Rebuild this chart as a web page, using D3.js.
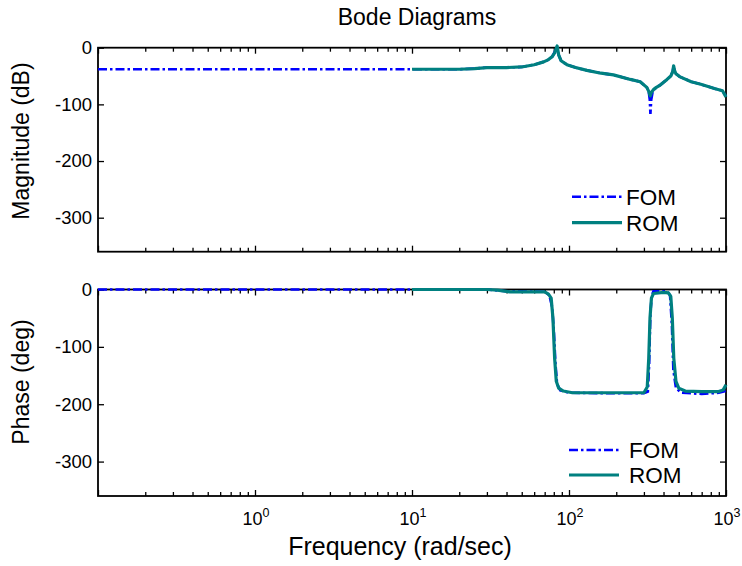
<!DOCTYPE html>
<html>
<head>
<meta charset="utf-8">
<script src="https://cdn.jsdelivr.net/npm/d3@7"></script>
<style>
  html, body { margin: 0; padding: 0; background: #fff; }
  text { font-family: "Liberation Sans", Arial, Helvetica, sans-serif; fill: #000; }
</style>
</head>
<body>
<svg id="chart" width="742" height="566"></svg>
<script>
// ---------------- DATA ----------------
const titleText = "Bode Diagrams";
const seriesNames = ["FOM", "ROM"];
const yTicks = [0, -100, -200, -300];
const xMajorTicks = [0.1, 1, 10, 100, 1000];
const xTickLabels = [0, 1, 2, 3];           // exponents shown: 10^0 .. 10^3

// Magnitude (dB)
const fomMagFreq = [0.1, 1, 10, 20, 25, 30, 40, 50, 60, 69, 74, 78, 81, 83, 86, 89, 97, 110, 130, 160, 192, 246, 284, 313, 322, 327, 330, 334, 342, 360, 381, 421, 445, 458, 464, 470, 480, 506, 600, 700, 843, 950, 1000];
const fomMagDb   = [-38, -38, -38, -38, -37, -35, -35, -34, -30, -25, -21, -16, -8, 1, -13, -23, -30, -35, -40, -45, -48, -56, -60, -70, -78, -92, -117, -92, -76, -70, -66, -56, -50, -42, -32, -40, -46, -51, -60, -65, -72, -76, -86];
const romMagFreq = [10, 20, 25, 30, 40, 50, 60, 69, 74, 78, 81, 84, 86, 89, 97, 110, 130, 160, 192, 246, 284, 313, 322, 329, 336, 345, 360, 381, 421, 445, 458, 464, 470, 480, 506, 600, 700, 843, 950, 1000];
const romMagDb   = [-38, -38, -37, -35, -35, -34, -30, -25, -21, -16, -9, 3, -13, -23, -30, -35, -40, -45, -48, -56, -60, -70, -77, -85, -78, -74, -70, -66, -56, -50, -42, -32, -40, -46, -51, -60, -65, -72, -76, -87];

// Phase (deg)
const fomPhaseFreq = [0.1, 1, 10, 30, 40, 70, 75, 78, 80, 82, 84, 88, 100, 200, 300, 318, 324, 330, 337, 345, 420, 440, 452, 462, 480, 520, 700, 900, 1000];
const fomPhaseDeg  = [0, 0, 0, 0, -3, -4, -10, -30, -70, -130, -165, -176, -180, -181, -181, -178, -130, -40, -10, -3, -3, -10, -60, -140, -172, -180, -182, -180, -177];
const romPhaseFreq = [10, 30, 35, 42, 70, 74, 77, 79, 81, 83, 86, 92, 105, 200, 300, 315, 322, 328, 335, 345, 400, 430, 445, 455, 465, 480, 500, 550, 700, 900, 960, 1000];
const romPhaseDeg  = [0, 0, -1, -4, -4, -8, -15, -50, -120, -160, -172, -177, -180, -180, -180, -170, -120, -50, -15, -7, -5, -6, -12, -50, -120, -160, -172, -177, -178, -178, -175, -166];

// ---------------- LAYOUT ----------------
const svg = d3.select("#chart");
const L = 98, R = 726;
const panels = [
  { top: 47.7, bottom: 251.7, label: "Magnitude (dB)", labelY: 141,
    fom: [fomMagFreq, fomMagDb], rom: [romMagFreq, romMagDb], xLabels: false,
    legY: [196.7, 222.7], legX: 572, legW: 50, legTX: 626 },
  { top: 289.5, bottom: 496, label: "Phase (deg)", labelY: 382,
    fom: [fomPhaseFreq, fomPhaseDeg], rom: [romPhaseFreq, romPhaseDeg], xLabels: true,
    legY: [450, 475], legX: 569, legW: 50, legTX: 629 }
];

const x = d3.scaleLog().domain([0.1, 1000]).range([L, R]);
const minorTicks = [];
[0.1, 1, 10, 100].forEach(d => { for (let k = 2; k <= 9; k++) minorTicks.push(d * k); });

svg.append("text").attr("x", 417).attr("y", 25).attr("text-anchor", "middle")
  .style("font-size", "23px").text(titleText);

panels.forEach(p => {
  const y = d3.scaleLinear().domain([-360, 0]).range([p.bottom, p.top]);
  const g = svg.append("g");

  // ticks (inward) on all sides
  const mk = (axisFn, scale, vals, size, transform) => {
    g.append("g").attr("transform", transform)
      .call(axisFn(scale).tickValues(vals).tickSize(size).tickFormat(""))
      .call(s => { s.select(".domain").remove(); s.selectAll("line").attr("stroke", "#000").attr("stroke-width", 1.3); });
  };
  mk(d3.axisBottom, x, xMajorTicks, -6, `translate(0,${p.bottom})`);
  mk(d3.axisBottom, x, minorTicks, -4, `translate(0,${p.bottom})`);
  mk(d3.axisTop, x, xMajorTicks, -6, `translate(0,${p.top})`);
  mk(d3.axisTop, x, minorTicks, -4, `translate(0,${p.top})`);
  mk(d3.axisRight, y, yTicks, -6, `translate(${R},0)`);

  // left axis with labels
  g.append("g").attr("transform", `translate(${L},0)`)
    .call(d3.axisLeft(y).tickValues(yTicks).tickSize(-6).tickPadding(6).tickFormat(d => d === 0 ? "0" : "-" + Math.abs(d)))
    .call(s => {
      s.select(".domain").remove();
      s.selectAll("line").attr("stroke", "#000").attr("stroke-width", 1.3);
      s.selectAll("text").style("font-size", "18.5px").attr("fill", "#000")
        .style("font-family", '"Liberation Sans", Arial, sans-serif');
    });

  // box
  g.append("rect").attr("x", L).attr("y", p.top).attr("width", R - L).attr("height", p.bottom - p.top)
    .attr("fill", "none").attr("stroke", "#000").attr("stroke-width", 1.8);

  // x tick labels (bottom panel only)
  if (p.xLabels) {
    xTickLabels.forEach(e => {
      const t = g.append("text").attr("x", x(Math.pow(10, e)) + 1).attr("y", 524.5)
        .attr("text-anchor", "middle").style("font-size", "18px");
      t.append("tspan").text("10");
      t.append("tspan").attr("dy", -7.5).style("font-size", "12.5px").text(String(e));
    });
  }

  // y label
  svg.append("text").attr("transform", `translate(29,${p.labelY}) rotate(-90)`)
    .attr("text-anchor", "middle").style("font-size", "23px").text(p.label);

  const line = d3.line().x(d => x(d[0])).y(d => y(d[1]));
  const fomPts = p.fom[0].map((f, i) => [f, p.fom[1][i]]);
  const romPts = p.rom[0].map((f, i) => [f, p.rom[1][i]]);

  g.append("path").attr("d", line(fomPts)).attr("fill", "none")
    .attr("stroke", "#0000ff").attr("stroke-width", 2.6).attr("stroke-dasharray", "9,3,2.5,3");
  g.append("path").attr("d", line(romPts)).attr("fill", "none")
    .attr("stroke", "#008080").attr("stroke-width", 3.2).attr("stroke-linejoin", "round");

  // legend
  const styles = [
    { stroke: "#0000ff", w: 2.6, dash: "9,3,2.5,3" },
    { stroke: "#008080", w: 3.2, dash: null }
  ];
  seriesNames.forEach((name, i) => {
    const ly = p.legY[i];
    g.append("line").attr("x1", p.legX).attr("x2", p.legX + p.legW).attr("y1", ly).attr("y2", ly)
      .attr("stroke", styles[i].stroke).attr("stroke-width", styles[i].w)
      .attr("stroke-dasharray", styles[i].dash);
    g.append("text").attr("x", p.legTX).attr("y", ly + 8).style("font-size", "22.5px").text(name);
  });
});

svg.append("text").attr("x", 400).attr("y", 555).attr("text-anchor", "middle")
  .style("font-size", "25px").text("Frequency (rad/sec)");
</script>
</body>
</html>
